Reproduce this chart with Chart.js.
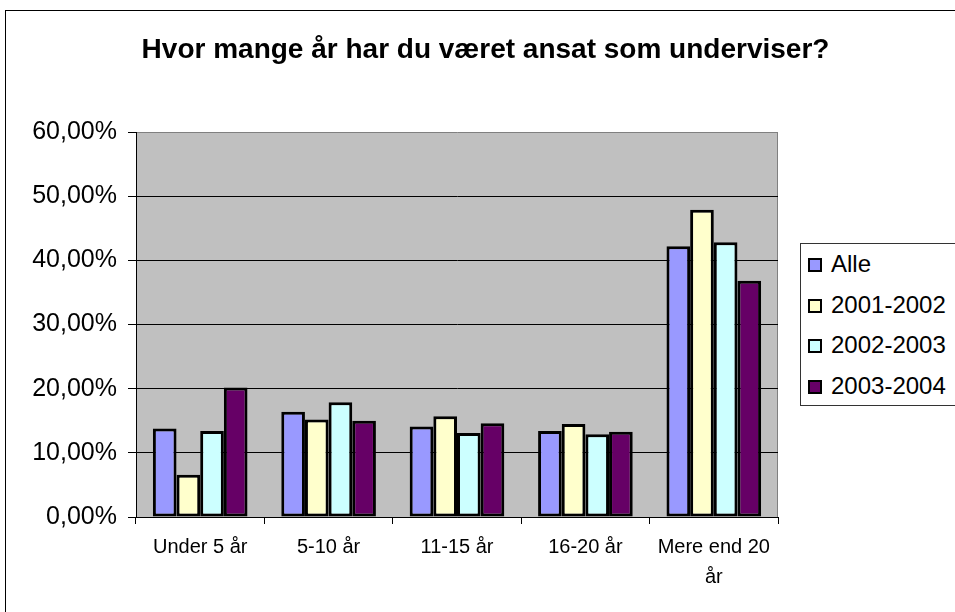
<!DOCTYPE html>
<html>
<head>
<meta charset="utf-8">
<title>Hvor mange år har du været ansat som underviser?</title>
<script src="https://cdn.jsdelivr.net/npm/chart.js@4.4.1/dist/chart.umd.min.js"></script>
<style>
  html, body { margin: 0; padding: 0; background: #fff; overflow: hidden; }
  #wrap { position: relative; width: 955px; height: 612px; overflow: hidden; font-family: 'Liberation Sans', Arial, sans-serif; }
  #frame { position: absolute; left: 5px; top: 10px; width: 1000px; height: 700px; border: 1px solid #000; }
  #title { position: absolute; left: 0; top: 35px; width: 971px; text-align: center; font-weight: bold; font-size: 28px; line-height: 28px; color: #000; }
  canvas { position: absolute; left: 0; top: 0; }
  #legend { position: absolute; left: 800px; top: 243px; width: 170px; height: 161px; border: 1px solid #333; background: #fff; }
  .item { position: relative; height: 40.5px; line-height: 40.5px; font-size: 24px; color: #000; }
  .item .sw { position: absolute; left: 7px; top: 14px; width: 10px; height: 10px; border: 2px solid #000; }
  .item .lb { position: absolute; left: 30px; top: 0; }
</style>
</head>
<body>
<div id="wrap">
  <div id="frame"></div>
  <canvas id="chart" width="955" height="612"></canvas>
  <div id="title">Hvor mange år har du været ansat som underviser?</div>
  <div id="legend"></div>
</div>
<script>
'use strict';

// kategorier og serier (procent)
const CATEGORIES = ['Under 5 år', '5-10 år', '11-15 år', '16-20 år', ['Mere end 20', 'år']];
const SERIES_NAMES = ['Alle', '2001-2002', '2002-2003', '2003-2004'];
const ALLE = [13.8, 16.4, 14.1, 13.4, 42.2];
const Y2001 = [6.6, 15.2, 15.7, 14.5, 47.9];
const Y2002 = [13.4, 17.9, 13.1, 12.9, 42.8];
const Y2003 = [20.2, 15.0, 14.6, 13.3, 36.8];
const Y_TICKS = [0, 10, 20, 30, 40, 50, 60];

const COLORS = ['#9999ff', '#ffffcc', '#ccffff', '#660066'];
const FONT = "'Liberation Sans', Arial, sans-serif";

const plotBg = {
  id: 'plotBg',
  beforeDraw(chart) {
    const { ctx, chartArea: a } = chart;
    ctx.save();
    ctx.fillStyle = '#c0c0c0';
    ctx.fillRect(a.left, a.top, a.right - a.left, a.bottom - a.top);
    ctx.strokeStyle = '#808080';
    ctx.lineWidth = 1;
    ctx.beginPath();
    ctx.moveTo(a.right - 0.5, a.top);
    ctx.lineTo(a.right - 0.5, a.bottom);
    ctx.stroke();
    ctx.restore();
  }
};

const seriesData = [ALLE, Y2001, Y2002, Y2003];

new Chart(document.getElementById('chart').getContext('2d'), {
  type: 'bar',
  data: {
    labels: CATEGORIES,
    datasets: SERIES_NAMES.map((name, i) => ({
      label: name,
      data: seriesData[i],
      backgroundColor: COLORS[i],
      borderColor: '#000',
      borderWidth: 3,
      borderSkipped: false,
      categoryPercentage: 0.737,
      barPercentage: 1,
    }))
  },
  options: {
    responsive: false,
    animation: false,
    layout: { padding: { left: 0, top: 132, right: 177, bottom: 0 } },
    plugins: {
      legend: { display: false },
      tooltip: { enabled: false },
      title: { display: false },
    },
    scales: {
      x: {
        offset: true,
        afterFit: (s) => { s.height = 95; },
        grid: {
          offset: true,
          drawOnChartArea: false,
          drawTicks: true,
          tickLength: 7,
          tickColor: '#000',
          color: '#000',
        },
        border: { color: '#000', width: 1 },
        ticks: {
          color: '#000',
          padding: 8,
          maxRotation: 0,
          autoSkip: false,
          font: { family: FONT, size: 20, lineHeight: 1.5 },
        },
      },
      y: {
        min: 0,
        max: 60,
        afterFit: (s) => { s.width = 136; },
        afterBuildTicks: (s) => { s.ticks = Y_TICKS.map(v => ({ value: v })); },
        grid: {
          color: (ctx) => (ctx.tick && ctx.tick.value >= 59.9 ? '#808080' : '#000'),
          tickColor: '#000',
          tickLength: 8,
          lineWidth: 1,
        },
        border: { color: '#000', width: 1 },
        ticks: {
          color: '#000',
          padding: 11,
          font: { family: FONT, size: 25 },
          callback: (v) => v.toFixed(2).replace('.', ',') + '%',
        },
      },
    },
  },
  plugins: [plotBg],
});

// forklaring
const legendEl = document.getElementById('legend');
SERIES_NAMES.forEach((name, i) => {
  const item = document.createElement('div');
  item.className = 'item';
  const sw = document.createElement('span');
  sw.className = 'sw';
  sw.style.background = COLORS[i];
  const lb = document.createElement('span');
  lb.className = 'lb';
  lb.textContent = name;
  item.appendChild(sw);
  item.appendChild(lb);
  legendEl.appendChild(item);
});
</script>
</body>
</html>
